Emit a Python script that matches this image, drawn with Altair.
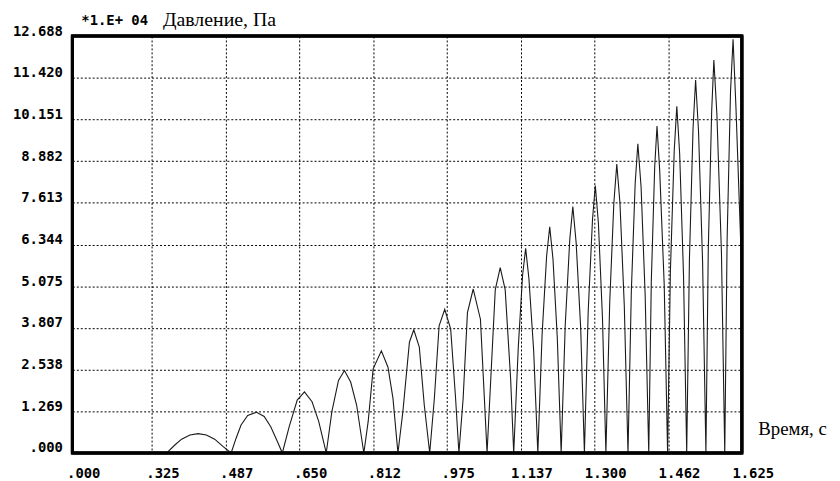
import altair as alt
import pandas as pd

# Time (s) and pressure (x 1.E+04 Pa)
time_s = [
    0.3584, 0.3767, 0.3911, 0.4094, 0.4275, 0.4456, 0.4639, 0.4820, 0.5001,
    0.5111, 0.5220, 0.5366, 0.5562, 0.5730, 0.5874, 0.6020, 0.6129,
    0.6282, 0.6457, 0.6616, 0.6784, 0.6930, 0.7096,
    0.7220, 0.7366, 0.7497, 0.7634, 0.7765, 0.7924,
    0.8020, 0.8129, 0.8310, 0.8456, 0.8566, 0.8675,
    0.8784, 0.8928, 0.9024, 0.9146, 0.9255, 0.9375,
    0.9477, 0.9582, 0.9706, 0.9837, 0.9945, 1.0018,
    1.0111, 1.0206, 1.0333, 1.0492, 1.0579, 1.0638,
    1.0720, 1.0819, 1.0928, 1.1037, 1.1157, 1.1225,
    1.1325, 1.1420, 1.1488, 1.1560, 1.1665, 1.1756,
    1.1850, 1.1950, 1.2018, 1.2090, 1.2185, 1.2270,
    1.2360, 1.2460, 1.2527, 1.2600, 1.2700, 1.2782,
    1.2865, 1.2960, 1.3022, 1.3090, 1.3180, 1.3255,
    1.3340, 1.3430, 1.3495, 1.3565, 1.3660, 1.3742,
    1.3815, 1.3900, 1.3959, 1.4030, 1.4120, 1.4199,
    1.4255, 1.4330, 1.4381, 1.4440, 1.4540, 1.4614,
    1.4675, 1.4760, 1.4817, 1.4880, 1.4965, 1.5035,
    1.5095, 1.5175, 1.5231, 1.5295, 1.5385, 1.5458,
    1.5510, 1.5585, 1.5633, 1.5700, 1.5800, 1.5873,
    1.5925, 1.6000, 1.6056, 1.6120, 1.6237, 1.6245,
]
pressure = [
    0.00, 0.25, 0.42, 0.55, 0.59, 0.55, 0.42, 0.20, 0.00,
    0.45, 0.85, 1.14, 1.24, 1.11, 0.80, 0.35, 0.00,
    0.81, 1.61, 1.86, 1.56, 0.96, 0.00,
    1.26, 2.21, 2.51, 2.16, 1.46, 0.00,
    0.96, 2.56, 3.11, 2.61, 1.66, 0.00,
    1.26, 3.37, 3.75, 3.22, 1.46, 0.00,
    1.66, 3.87, 4.37, 3.77, 1.66, 0.00,
    1.66, 4.27, 4.99, 4.07, 1.66, 0.00,
    2.26, 4.97, 5.64, 4.97, 2.26, 0.00,
    3.20, 5.40, 6.23, 5.30, 3.10, 0.00,
    3.60, 6.00, 6.88, 5.90, 3.50, 0.00,
    3.90, 6.50, 7.50, 6.40, 3.80, 0.00,
    4.30, 7.10, 8.14, 7.00, 4.10, 0.00,
    4.60, 7.60, 8.79, 7.60, 4.50, 0.00,
    4.90, 8.20, 9.41, 8.10, 4.80, 0.00,
    5.20, 8.70, 9.95, 8.60, 5.10, 0.00,
    5.50, 9.20, 10.55, 9.10, 5.40, 0.00,
    5.90, 9.90, 11.35, 9.80, 5.80, 0.00,
    6.20, 10.40, 11.96, 10.30, 6.10, 0.00,
    6.50, 11.00, 12.59, 10.50, 5.90, 0.40,
]

x_tick_values = [0.1505, 0.325, 0.4875, 0.65, 0.8125, 0.975, 1.1375, 1.3, 1.4625, 1.625]
x_tick_labels = [".000", ".325", ".487", ".650", ".812", ".975", "1.137", "1.300", "1.462", "1.625"]
y_tick_values = [0.0, 1.26885, 2.5377, 3.80655, 5.0754, 6.34425, 7.6131, 8.88195, 10.1508, 11.41965, 12.6885]
y_tick_labels = [".000", "1.269", "2.538", "3.807", "5.075", "6.344", "7.613", "8.882", "10.151", "11.420", "12.688"]
scale_note = ["*1.E+ 04"]
frame_x = [0.1505, 1.625]
frame_y = [0.0, 12.6885]

df = pd.DataFrame({"t": time_s, "p": pressure})

def js_list(items):
    return "[" + ",".join("'" + s + "'" for s in items) + "]"

x_expr = js_list(x_tick_labels) + "[max(0, round((datum.value - 0.1625) / 0.1625))]"
y_expr = js_list(y_tick_labels) + "[round(datum.value / 1.26885)]"

mono = "DejaVu Sans Mono"
serif = "Liberation Serif"

x_scale = alt.Scale(domain=[0.1505, 1.625], nice=False, zero=False)
y_scale = alt.Scale(domain=[0, 12.6885], nice=False, zero=True)

line = alt.Chart(df).mark_line(color="#1a1a1a", strokeWidth=1.1).encode(
    x=alt.X(
        "t:Q",
        scale=x_scale,
        axis=alt.Axis(
            values=x_tick_values,
            labelExpr=x_expr,
            title="Время, с",
            titleFont=serif,
            titleFontSize=19,
            titleFontWeight="normal",
            titleColor="black",
            titleAngle=0,
            titleAlign="left",
            titleBaseline="alphabetic",
            titleX=692,
            titleY=-19,
            labelFont=mono,
            labelFontSize=14,
            labelFontWeight="bold",
            labelColor="black",
            labelAlign="center",
            labelBaseline="top",
            labelOffset=11,
            labelPadding=14,
            labelFlush=False,
            labelOverlap=False,
            ticks=False,
            domain=False,
            grid=True,
            gridColor="black",
            gridDash=[2, 2],
            gridWidth=1,
            gridOpacity=1,
        ),
    ),
    y=alt.Y(
        "p:Q",
        scale=y_scale,
        axis=alt.Axis(
            values=y_tick_values,
            labelExpr=y_expr,
            title="Давление, Па",
            titleFont=serif,
            titleFontSize=20,
            titleFontWeight="normal",
            titleColor="black",
            titleAngle=0,
            titleAlign="left",
            titleBaseline="alphabetic",
            titleX=91,
            titleY=-11,
            labelFont=mono,
            labelFontSize=14,
            labelFontWeight="bold",
            labelColor="black",
            labelAlign="right",
            labelBaseline="alphabetic",
            labelOffset=-1,
            labelPadding=10,
            labelFlush=False,
            labelOverlap=False,
            ticks=False,
            domain=False,
            grid=True,
            gridColor="black",
            gridDash=[2, 2],
            gridWidth=1,
            gridOpacity=1,
        ),
    ),
)

frame_df = pd.DataFrame({
    "x0": [frame_x[0]], "x1": [frame_x[1]],
    "y0": [frame_y[0]], "y1": [frame_y[1]],
})
frame_rect = alt.Chart(frame_df).mark_rect(
    fill=None, fillOpacity=0, stroke="#000000", strokeWidth=3
).encode(
    x=alt.X("x0:Q", scale=x_scale),
    x2="x1:Q",
    y=alt.Y("y0:Q", scale=y_scale),
    y2="y1:Q",
)

vrules = alt.Chart(pd.DataFrame({"fx": frame_x})).mark_rule(color="#000000", strokeWidth=3).encode(
    x=alt.X("fx:Q", scale=x_scale)
)
hrules = alt.Chart(pd.DataFrame({"fy": frame_y})).mark_rule(color="#000000", strokeWidth=3).encode(
    y=alt.Y("fy:Q", scale=y_scale)
)

note = alt.Chart(pd.DataFrame({"note": scale_note})).mark_text(
    font=mono,
    fontSize=14,
    fontWeight="bold",
    color="black",
    align="left",
    baseline="alphabetic",
).encode(
    text="note:N",
    x=alt.value(9),
    y=alt.value(-11),
)

chart = alt.layer(line, note, frame_rect, vrules, hrules).properties(
    width=676,
    height=421,
    padding={"left": 65, "top": 26, "right": 91, "bottom": 26},
    autosize=alt.AutoSizeParams(type="none"),
).configure_view(stroke="#000000", strokeWidth=3)

chart.save("out.html", embed_options={"renderer": "svg", "actions": False})
